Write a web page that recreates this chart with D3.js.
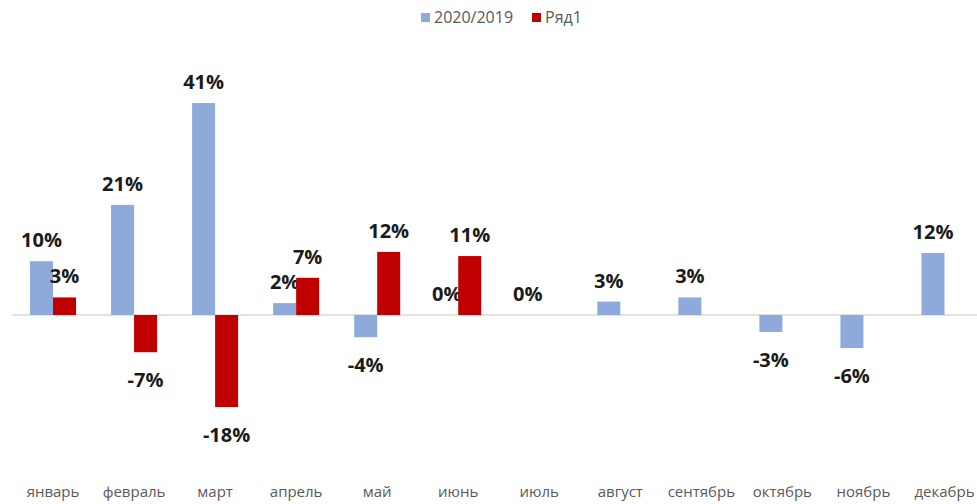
<!DOCTYPE html>
<html>
<head>
<meta charset="utf-8">
<script src="https://cdn.jsdelivr.net/npm/d3@7"></script>
<style>
    body { margin: 0; background: #fff; }
    svg { display: block; }
    .LabelText { font-family: "Open Sans", sans-serif; font-weight: bold; font-size: 20px; fill: #1a1a1a; }
    .MonthText { font-family: "Open Sans", sans-serif; font-size: 15px; fill: #595959; }
    .LegendText { font-family: "Open Sans", sans-serif; font-size: 16px; fill: #595959; }
</style>
</head>
<body>
<svg id="SvgContainer"></svg>
<script>
var months = ["январь", "февраль", "март", "апрель", "май", "июнь", "июль", "август", "сентябрь", "октябрь", "ноябрь", "декабрь"];
var seriesNames = ["2020/2019", "Ряд1"];
var values2020 = [0.104, 0.213, 0.41, 0.023, -0.043, 0, 0, 0.026, 0.034, -0.033, -0.064, 0.12];
var valuesRow1 = [0.034, -0.072, -0.178, 0.072, 0.122, 0.114, null, null, null, null, null, null];
var seriesColors = ["#8eaadb", "#c00000"];

var width = 977;
var height = 504;
var zeroY = 315;
var pxPerUnit = 517;

var svg = d3.select("#SvgContainer")
    .attr("width", width)
    .attr("height", height);

var x = d3.scaleBand()
    .domain(months)
    .range([12.5, 985])
    .padding(0);

var bw = x.bandwidth();
var barW = 23;
var x1 = d3.scaleBand()
    .domain(seriesNames)
    .range([bw / 2 - barW, bw / 2 + barW]);

var y = d3.scaleLinear()
    .domain([-0.2, 0.5])
    .range([zeroY + 0.2 * pxPerUnit, zeroY - 0.5 * pxPerUnit]);

var pct = d3.format(".0%");
function fmt(v) {
    return pct(v).replace("\u2212", "-");
}

// zero line
svg.append("line")
    .attr("x1", 12)
    .attr("x2", width)
    .attr("y1", y(0))
    .attr("y2", y(0))
    .attr("stroke", "#d9d9d9")
    .attr("stroke-width", 1.5);

var series = [values2020, valuesRow1];

series.forEach(function (vals, s) {
    var data = vals.map(function (v, i) { return {m: months[i], v: v}; })
        .filter(function (d) { return d.v !== null; });

    var g = svg.append("g").attr("class", "SeriesGroup");

    g.selectAll("rect")
        .data(data)
        .enter()
        .append("rect")
        .attr("x", function (d) { return x(d.m) + x1(seriesNames[s]); })
        .attr("y", function (d) { return y(Math.max(0, d.v)); })
        .attr("width", x1.bandwidth())
        .attr("height", function (d) { return Math.abs(y(d.v) - y(0)); })
        .attr("fill", seriesColors[s]);

    g.selectAll("text")
        .data(data)
        .enter()
        .append("text")
        .attr("class", "LabelText")
        .attr("text-anchor", "middle")
        .attr("x", function (d) { return x(d.m) + x1(seriesNames[s]) + x1.bandwidth() / 2; })
        .attr("y", function (d) {
            return d.v < 0 ? y(d.v) + 35 : y(d.v) - 14;
        })
        .text(function (d) { return fmt(d.v); });
});

// month labels
svg.append("g")
    .selectAll("text")
    .data(months)
    .enter()
    .append("text")
    .attr("class", "MonthText")
    .attr("text-anchor", "middle")
    .attr("x", function (d) { return x(d) + bw / 2; })
    .attr("y", 497)
    .text(function (d) { return d; });

// legend
var legendX = [421, 532];
var legend = svg.append("g").attr("class", "Legend");
seriesNames.forEach(function (name, i) {
    legend.append("rect")
        .attr("x", legendX[i])
        .attr("y", 13)
        .attr("width", 9)
        .attr("height", 9)
        .attr("fill", seriesColors[i]);
    legend.append("text")
        .attr("class", "LegendText")
        .attr("x", legendX[i] + 13)
        .attr("y", 23)
        .text(name);
});
</script>
</body>
</html>
